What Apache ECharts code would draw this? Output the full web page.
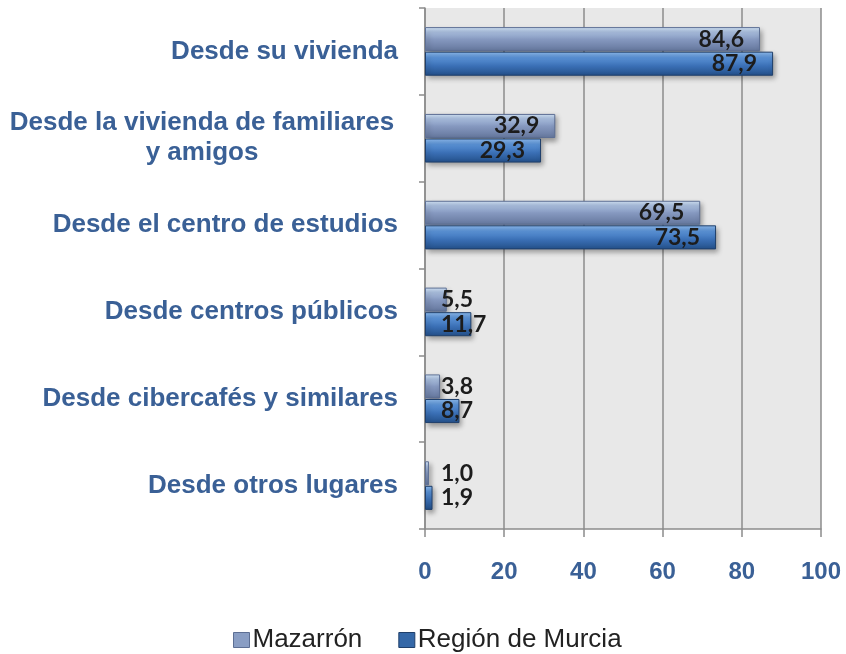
<!DOCTYPE html>
<html><head><meta charset="utf-8">
<script src="https://cdn.jsdelivr.net/npm/echarts@6/dist/echarts.min.js"></script>
<style>html,body{margin:0;padding:0;background:#fff}#c{width:846px;height:654px}</style>
</head><body><div id="c"></div>
<script>
const categories = ["Desde su vivienda", "Desde la vivienda de familiares\ny amigos", "Desde el centro de estudios", "Desde centros públicos", "Desde cibercafés y similares", "Desde otros lugares"];
const seriesNames = ["Mazarrón", "Región de Murcia"];
const mazarron = [84.6, 32.9, 69.5, 5.5, 3.8, 1.0];
const murcia = [87.9, 29.3, 73.5, 11.7, 8.7, 1.9];
const xTicks = [0, 20, 40, 60, 80, 100];

const chart = echarts.init(document.getElementById('c'));
const fmt = v => v.toFixed(1).replace('.', ',');
function mkData(arr) {
  return arr.map(v => ({
    value: v,
    label: v >= 20 ? { position: 'insideRight', distance: 16 } : { position: 'insideLeft', distance: 16 }
  }));
}
const labelStyle = { show: true, formatter: p => fmt(p.value), fontFamily: 'Lato, "Open Sans", sans-serif', fontWeight: 'bold', fontSize: 23, color: '#1c1c1c' };
const gradM = new echarts.graphic.LinearGradient(0, 0, 0, 1, [
  { offset: 0, color: '#d6e8fa' }, { offset: 0.2, color: '#abc0e0' }, { offset: 0.5, color: '#8699c0' }, { offset: 1, color: '#64769c' }]);
const gradR = new echarts.graphic.LinearGradient(0, 0, 0, 1, [
  { offset: 0, color: '#8fbdf0' }, { offset: 0.25, color: '#5a92d6' }, { offset: 0.6, color: '#3a6fb5' }, { offset: 1, color: '#234f88' }]);
const labelFont = '"Liberation Sans", Arial, sans-serif';

chart.setOption({
  animation: false,
  grid: { left: 425, right: 25, top: 8, bottom: 125, show: true, backgroundColor: '#e8e8e8', borderWidth: 0 },
  legend: {
    top: 622, left: 228, itemWidth: 16, itemHeight: 15, itemGap: 36,
    icon: 'rect',
    textStyle: { fontFamily: labelFont, fontSize: 26, color: '#222', padding: [0, 0, 0, -2] },
    data: [
      { name: seriesNames[0], itemStyle: { color: '#8a9ec4', borderColor: '#5d6f94', borderWidth: 1 } },
      { name: seriesNames[1], itemStyle: { color: '#3568a8', borderColor: '#1f3f6b', borderWidth: 1 } }
    ]
  },
  xAxis: {
    type: 'value', min: 0, max: 100, interval: 20,
    axisLine: { show: true, lineStyle: { color: '#8c8c8c', width: 1.5 } },
    axisTick: { show: true, length: 8, lineStyle: { color: '#8c8c8c', width: 1.5 } },
    splitLine: { show: true, lineStyle: { color: '#8c8c8c', width: 1.5 } },
    axisLabel: { margin: 31, fontFamily: labelFont, fontWeight: 'bold', fontSize: 24, color: '#3a6096',
      formatter: v => xTicks.includes(v) ? String(v) : '' }
  },
  yAxis: {
    type: 'category', inverse: true, data: categories,
    axisLine: { show: true, lineStyle: { color: '#8c8c8c', width: 1.5 } },
    axisTick: { show: true, length: 6, lineStyle: { color: '#8c8c8c', width: 1.5 } },
    axisLabel: {
      margin: 27, color: '#3a6096',
      formatter: v => v.indexOf('\n') >= 0 ? v.split('\n').map(s => '{c|' + s + '}').join('\n') : '{s|' + v + '}',
      rich: {
        c: { fontFamily: labelFont, fontWeight: 'bold', fontSize: 26, color: '#3a6096', width: 392, align: 'center', lineHeight: 30 },
        s: { fontFamily: labelFont, fontWeight: 'bold', fontSize: 26, color: '#3a6096', lineHeight: 30 }
      },
      align: 'right'
    }
  },
  series: [
    { name: seriesNames[0], type: 'bar', data: mkData(mazarron), barGap: '2%', barCategoryGap: '44%',
      itemStyle: { color: gradM, borderColor: '#5d6f94', borderWidth: 1, shadowBlur: 5, shadowOffsetX: 2, shadowOffsetY: 3, shadowColor: 'rgba(0,0,0,0.35)' },
      label: labelStyle },
    { name: seriesNames[1], type: 'bar', data: mkData(murcia), barGap: '2%', barCategoryGap: '44%',
      itemStyle: { color: gradR, borderColor: '#1f3f6b', borderWidth: 1, shadowBlur: 5, shadowOffsetX: 2, shadowOffsetY: 3, shadowColor: 'rgba(0,0,0,0.35)' },
      label: labelStyle }
  ]
});
</script></body></html>
